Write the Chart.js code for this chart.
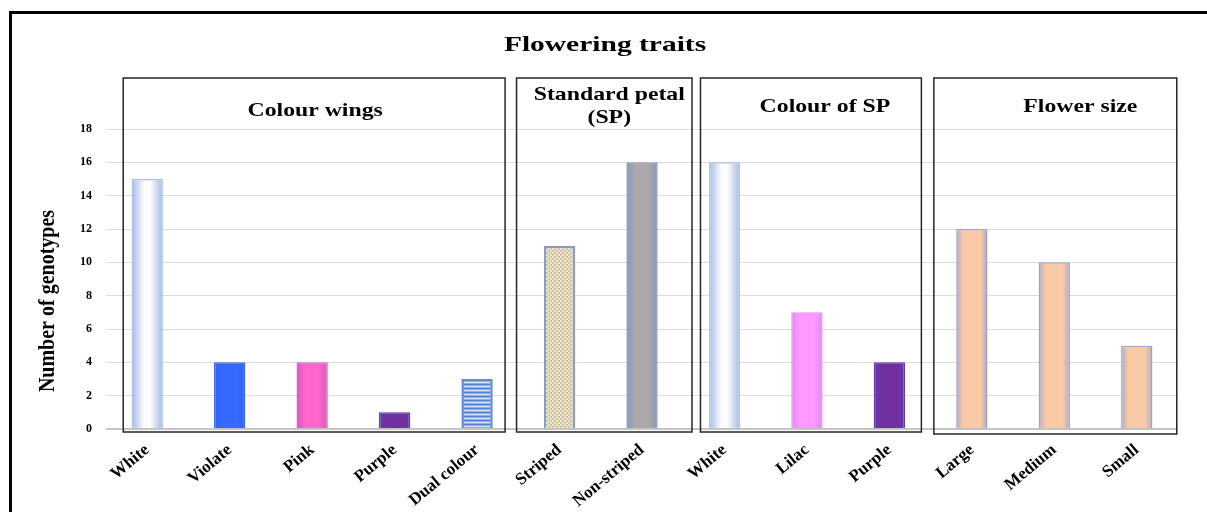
<!DOCTYPE html>
<html>
<head>
<meta charset="utf-8">
<title>Flowering traits</title>
<script src="https://cdn.jsdelivr.net/npm/chart.js@4.4.1/dist/chart.umd.min.js"></script>
<style>
  html, body { margin: 0; padding: 0; background: #fff; }
  #wrap { position: relative; width: 1207px; height: 512px; }
</style>
</head>
<body>
<div id="wrap"><canvas id="traitsChart"></canvas></div>
<script>
// Values
const categories = ["White", "Violate", "Pink", "Purple", "Dual colour", "Striped", "Non-striped",
                    "White", "Lilac", "Purple", "Large", "Medium", "Small"];
const genotypeCounts = [15, 4, 4, 1, 3, 11, 16, 16, 7, 4, 12, 10, 5];

// Trait groups (first / last category index of each boxed panel)
const groupTitles = [["Colour wings"], ["Standard petal", "(SP)"], ["Colour of SP"], ["Flower size"]];
const groupFirst = [0, 5, 7, 10];
const groupLast = [4, 6, 9, 12];

const chartTitle = "Flowering traits";
const yAxisTitle = "Number of genotypes";
const yMax = 18;
const yStep = 2;

// Look of each bar (kept apart from the data)
const barLook = ["white", "violet", "pink", "purple", "dual", "striped", "plain",
                 "white", "lilac", "purple", "peach", "peach", "peach"];

const SERIF = "'Liberation Serif', 'Times New Roman', serif";

(() => {
    const looks = {
        white:  { edge: "#a3b9e4", mid: "#ffffff", border: "#adc2e8", stops: [0.42, 0.58] },
        violet: { edge: "#3562ec", mid: "#3669ff", border: "#3a66e8", stops: [0.25, 0.75] },
        pink:   { edge: "#d55cbc", mid: "#ff66cc", border: "#dc62c2", stops: [0.3, 0.7] },
        purple: { edge: "#6438a8", mid: "#7030a0", border: "#6a3aa8", stops: [0.3, 0.7] },
        lilac:  { edge: "#e28cf0", mid: "#ff99ff", border: "#e490ee", stops: [0.3, 0.7] },
        plain:  { edge: "#8898c0", mid: "#aaa8a8", border: "#8696c0", stops: [0.3, 0.7] },
        peach:  { edge: "#aea9c6", mid: "#f7c9a5", border: "#a3a2c6", stops: [0.22, 0.78] },
        dual:   { pattern: "dual", mid: "#9db8e6", border: "#6488d4" },
        striped:{ pattern: "striped", mid: "#e0d4b6", border: "#8a9cc6" },
    };

    const patternCache = {};
    const makePattern = (kind, ctx) => {
        if (patternCache[kind]) return patternCache[kind];
        const tile = document.createElement("canvas");
        const t = tile.getContext("2d");
        if (kind === "dual") {
            tile.width = 6; tile.height = 4;
            t.fillStyle = "#8fb0e6"; t.fillRect(0, 0, 6, 4);
            t.fillStyle = "#5580d2"; t.fillRect(0, 0, 6, 1);
            t.fillStyle = "#d4e1f6"; t.fillRect(0, 2, 6, 1);
        } else {
            tile.width = 4; tile.height = 4;
            t.fillStyle = "#d6c9a8"; t.fillRect(0, 0, 4, 4);
            t.fillStyle = "#eee5cf"; t.fillRect(0, 0, 2, 2); t.fillRect(2, 2, 2, 2);
            t.fillStyle = "#b3aa94"; t.fillRect(3, 0, 1, 1); t.fillRect(1, 2, 1, 1);
        }
        patternCache[kind] = ctx.createPattern(tile, "repeat");
        return patternCache[kind];
    };

    const barFill = (c) => {
        if (c.type !== "data") return "#cccccc";
        const look = looks[barLook[c.dataIndex]];
        const chart = c.chart;
        if (look.pattern) return makePattern(look.pattern, chart.ctx);
        const xs = chart.scales.x;
        if (!chart.chartArea || !xs) return look.mid;
        const cx = xs.getPixelForValue(c.dataIndex);
        const hw = (xs.width / categories.length) * 0.38 / 2;
        const g = chart.ctx.createLinearGradient(cx - hw, 0, cx + hw, 0);
        g.addColorStop(0, look.edge);
        g.addColorStop(look.stops[0], look.mid);
        g.addColorStop(look.stops[1], look.mid);
        g.addColorStop(1, look.edge);
        return g;
    };

    const barBorder = (c) => (c.type === "data" ? looks[barLook[c.dataIndex]].border : "#999");
    const barBorderWidth = (c) => (c.type === "data" && looks[barLook[c.dataIndex]].pattern ? 2.5 : 1.5);

    // Boxes, panel titles, main title, y title and outer frame
    const panelPlugin = {
        id: "traitPanels",
        afterDraw(chart) {
            const { ctx, chartArea } = chart;
            const xs = chart.scales.x;
            const padL = [24, 43, 24, 38];
            const padR = [28, 50, 32, 40];
            const shift = [1, 5, 14, 25];
            const rise = [[18], [34, 11], [22], [22]];
            ctx.save();

            // outer frame (left and top edges show in the figure)
            ctx.strokeStyle = "#000";
            ctx.lineWidth = 3;
            ctx.beginPath();
            ctx.moveTo(10.5, chart.height + 5);
            ctx.lineTo(10.5, 12.5);
            ctx.lineTo(chart.width + 5, 12.5);
            ctx.stroke();

            groupTitles.forEach((lines, i) => {
                const left = xs.getPixelForValue(groupFirst[i]) - padL[i];
                const right = xs.getPixelForValue(groupLast[i]) + padR[i];
                const top = chartArea.top - 51;
                const bottom = chartArea.bottom + (i === 3 ? 5 : 3);
                ctx.strokeStyle = "#262626";
                ctx.lineWidth = 1.5;
                ctx.strokeRect(left, top, right - left, bottom - top);

                ctx.fillStyle = "#000";
                ctx.font = "bold 19px " + SERIF;
                ctx.textAlign = "center";
                ctx.textBaseline = "middle";
                lines.forEach((line, k) => {
                    ctx.save();
                    ctx.translate((left + right) / 2 + shift[i], chartArea.top - rise[i][k]);
                    ctx.scale(1.25, 1);
                    ctx.fillText(line, 0, 0);
                    ctx.restore();
                });
            });

            // main title
            ctx.save();
            ctx.fillStyle = "#000";
            ctx.font = "bold 22px " + SERIF;
            ctx.textAlign = "center";
            ctx.textBaseline = "middle";
            ctx.translate(605, 45);
            ctx.scale(1.34, 1);
            ctx.fillText(chartTitle, 0, 0);
            ctx.restore();

            // y axis title
            ctx.save();
            ctx.fillStyle = "#000";
            ctx.font = "bold 20px " + SERIF;
            ctx.textAlign = "center";
            ctx.textBaseline = "middle";
            ctx.translate(48, (chartArea.top + chartArea.bottom) / 2 + 22);
            ctx.scale(1.15, 1);
            ctx.rotate(-Math.PI / 2);
            ctx.fillText(yAxisTitle, 0, 0);
            ctx.restore();

            ctx.restore();
        },
    };

    document.addEventListener("DOMContentLoaded", () => {
        if (typeof Chart === "undefined") return;
        const canvas = document.getElementById("traitsChart");

        new Chart(canvas, {
            type: "bar",
            data: {
                labels: categories,
                datasets: [
                    {
                        label: yAxisTitle,
                        data: genotypeCounts,
                        backgroundColor: barFill,
                        borderColor: barBorder,
                        borderWidth: barBorderWidth,
                        barPercentage: 0.38,
                        categoryPercentage: 1,
                    },
                ],
            },
            options: {
                responsive: true,
                maintainAspectRatio: false,
                animation: false,
                layout: { padding: { top: 129, right: 29, left: 0, bottom: 0 } },
                plugins: {
                    legend: { display: false },
                    title: { display: false },
                    tooltip: { enabled: false },
                },
                scales: {
                    x: {
                        grid: { display: false },
                        border: { display: false },
                        ticks: {
                            color: "#000",
                            font: { family: SERIF, weight: "bold", size: 17 },
                            minRotation: 40,
                            maxRotation: 40,
                            autoSkip: false,
                            padding: 3,
                        },
                        afterFit: (s) => { s.height = 83; },
                    },
                    y: {
                        min: 0,
                        max: yMax,
                        ticks: {
                            stepSize: yStep,
                            padding: 14,
                            color: "#000",
                            font: { family: SERIF, weight: "bold", size: 12 },
                        },
                        grid: {
                            color: (c) => (c.tick && c.tick.value === 0 ? "#c4c4c4" : "#dcdcdc"),
                            lineWidth: (c) => (c.tick && c.tick.value === 0 ? 2 : 1),
                            drawTicks: false,
                        },
                        border: { display: false },
                        afterFit: (s) => { s.width = 106; },
                    },
                },
            },
            plugins: [panelPlugin],
        });
    });
})();
</script>
</body>
</html>
